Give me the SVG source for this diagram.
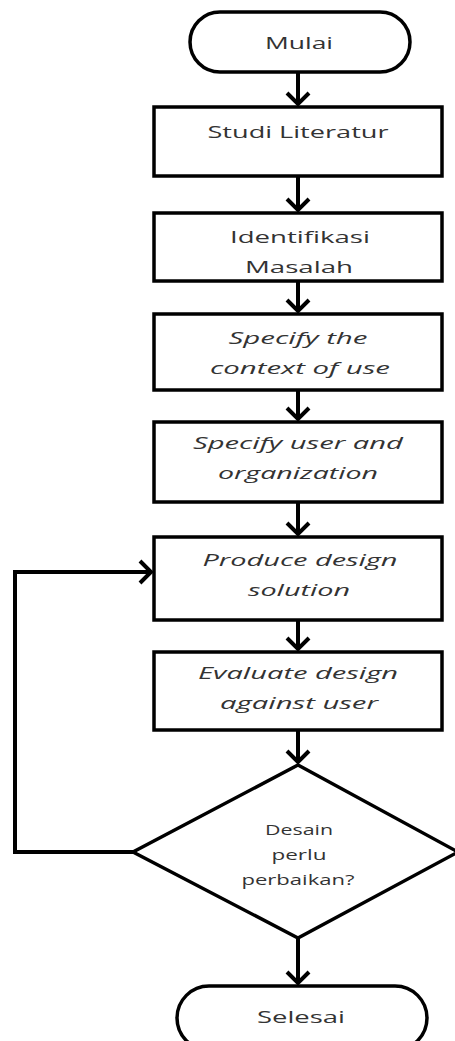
<svg xmlns="http://www.w3.org/2000/svg" width="455" height="1041" viewBox="0 0 455 1041">
<style>
.shape{fill:#fff;stroke:#000;stroke-width:3.5}
.conn{fill:none;stroke:#000;stroke-width:4}
.t{font-family:"Open Sans","Liberation Sans",sans-serif;font-size:17px;fill:#333;text-anchor:middle}
.i{font-style:italic}
.s{font-size:14px}
</style>
<defs>
<marker id="arr" viewBox="-14 -14 28 28" refX="0" refY="0" markerWidth="28" markerHeight="28" markerUnits="userSpaceOnUse" orient="auto">
<path d="M-11,-11 L0,0 L-11,11" fill="none" stroke="#000" stroke-width="4"/>
</marker>
</defs>
<rect width="455" height="1041" fill="#fff"/>
<g id="connectors">
<line class="conn" x1="298" y1="72" x2="298" y2="104" marker-end="url(#arr)"/>
<line class="conn" x1="298" y1="176" x2="298" y2="210" marker-end="url(#arr)"/>
<line class="conn" x1="298" y1="281" x2="298" y2="311" marker-end="url(#arr)"/>
<line class="conn" x1="298" y1="390" x2="298" y2="419" marker-end="url(#arr)"/>
<line class="conn" x1="298" y1="502" x2="298" y2="534" marker-end="url(#arr)"/>
<line class="conn" x1="298" y1="620" x2="298" y2="649" marker-end="url(#arr)"/>
<line class="conn" x1="298" y1="730" x2="298" y2="762" marker-end="url(#arr)"/>
<line class="conn" x1="298" y1="938" x2="298" y2="983" marker-end="url(#arr)"/>
<polyline class="conn" points="133,852 15,852 15,572 151,572" marker-end="url(#arr)"/>
</g>
<g id="mulai">
<rect class="shape" x="190" y="12" width="220" height="60" rx="30"/>
<text class="t" x="299" y="49" textLength="68" lengthAdjust="spacingAndGlyphs">Mulai</text>
</g>
<g id="studi">
<rect class="shape" x="154" y="107" width="288" height="69"/>
<text class="t" x="298" y="138" textLength="181" lengthAdjust="spacingAndGlyphs">Studi Literatur</text>
</g>
<g id="identifikasi">
<rect class="shape" x="154" y="213" width="288" height="68"/>
<text class="t" x="300" y="243" textLength="140" lengthAdjust="spacingAndGlyphs">Identifikasi</text>
<text class="t" x="299" y="273" textLength="108" lengthAdjust="spacingAndGlyphs">Masalah</text>
</g>
<g id="context">
<rect class="shape" x="154" y="314" width="288" height="76"/>
<text class="t i" x="298" y="344" textLength="139" lengthAdjust="spacingAndGlyphs">Specify the</text>
<text class="t i" x="300" y="374" textLength="180" lengthAdjust="spacingAndGlyphs">context of use</text>
</g>
<g id="user">
<rect class="shape" x="154" y="422" width="288" height="80"/>
<text class="t i" x="298" y="449" textLength="210" lengthAdjust="spacingAndGlyphs">Specify user and</text>
<text class="t i" x="298" y="479" textLength="160" lengthAdjust="spacingAndGlyphs">organization</text>
</g>
<g id="produce">
<rect class="shape" x="154" y="537" width="288" height="83"/>
<text class="t i" x="300" y="566" textLength="195" lengthAdjust="spacingAndGlyphs">Produce design</text>
<text class="t i" x="299" y="596" textLength="102" lengthAdjust="spacingAndGlyphs">solution</text>
</g>
<g id="evaluate">
<rect class="shape" x="154" y="652" width="288" height="78"/>
<text class="t i" x="298" y="679" textLength="200" lengthAdjust="spacingAndGlyphs">Evaluate design</text>
<text class="t i" x="299" y="709" textLength="158" lengthAdjust="spacingAndGlyphs">against user</text>
</g>
<g id="decision">
<polygon class="shape" points="298,765 458,852 298,938 133,852"/>
<text class="t s" x="299" y="835" textLength="68" lengthAdjust="spacingAndGlyphs">Desain</text>
<text class="t s" x="299" y="860" textLength="55" lengthAdjust="spacingAndGlyphs">perlu</text>
<text class="t s" x="298" y="885" textLength="113" lengthAdjust="spacingAndGlyphs">perbaikan?</text>
</g>
<g id="selesai">
<rect class="shape" x="177" y="986" width="250" height="64" rx="32"/>
<text class="t" x="301" y="1023" textLength="88" lengthAdjust="spacingAndGlyphs">Selesai</text>
</g>
</svg>
